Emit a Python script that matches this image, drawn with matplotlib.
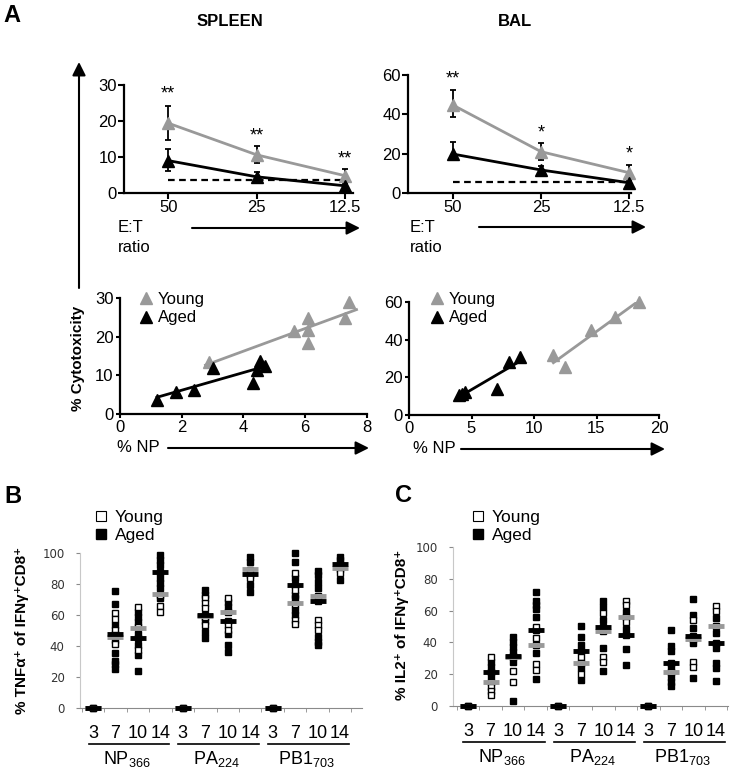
import numpy as np
import matplotlib.pyplot as plt
from matplotlib.patches import FancyArrowPatch
from matplotlib.lines import Line2D
import matplotlib.transforms as mtransforms

plt.rcParams['font.family'] = ['Liberation Sans', 'DejaVu Sans']
plt.rcParams['mathtext.default'] = 'regular'

# ---- panel A, top: % cytotoxicity vs E:T ratio ----
et_labels = ['50', '25', '12.5']

spl_young = [19.4, 10.6, 4.8]
spl_young_err = [[4.6, 2.3, 1.5], [4.8, 2.4, 1.8]]
spl_aged = [9.0, 4.5, 2.0]
spl_aged_err = [[3.0, 1.0, 0.5], [3.1, 1.4, 0.5]]
spl_base = 3.6
spl_stars = ['**', '**', '**']
spl_star_y = [27.5, 15.8, 9.4]

bal_young = [44.7, 21.0, 10.3]
bal_young_err = [[6.0, 4.0, 3.0], [7.7, 4.3, 3.9]]
bal_aged = [19.8, 11.7, 5.2]
bal_aged_err = [[3.0, 2.0, 1.0], [6.3, 2.2, 1.0]]
bal_base = 5.7
bal_stars = ['**', '*', '*']
bal_star_y = [57.8, 30.7, 19.8]

# ---- panel A, bottom: % cytotoxicity vs % NP ----
spl_np_young = [2.87, 5.65, 6.08, 6.08, 6.08, 7.3, 7.41]
spl_cyt_young = [13.5, 21.5, 24.7, 21.6, 18.4, 24.7, 28.9]
spl_np_aged = [1.2, 1.8, 2.4, 3.0, 4.3, 4.45, 4.55, 4.7]
spl_cyt_aged = [3.6, 5.6, 6.2, 12.0, 7.9, 11.4, 13.8, 12.5]

bal_np_young = [11.55, 12.5, 14.56, 16.5, 18.4]
bal_cyt_young = [31.9, 25.4, 45.3, 52.0, 60.0]
bal_np_aged = [4.0, 4.2, 4.45, 7.05, 8.0, 8.85]
bal_cyt_aged = [10.5, 11.0, 12.2, 13.8, 28.0, 30.8]

# ---- panels B and C ----
days = ['3', '7', '10', '14']
epitopes = ['NP$_{366}$', 'PA$_{224}$', 'PB1$_{703}$']

tnf_young = [
    [0], [61.5, 57.4, 50.3, 47, 41.0], [65.4, 52, 37.4], [66, 62, 73],
    [0], [71, 67.7, 64.7, 59, 53.5], [71.2, 62, 53.5, 50.3], [89, 83.6],
    [0], [86.9, 76.1, 67, 56.8, 54], [72, 56.8, 53.5, 50.3], [90, 86.8],
]
tnf_aged = [
    [0], [75.5, 67, 53.5, 48, 43.9, 35.3, 30.3, 28.2, 25.2],
    [62, 59, 55.7, 48, 45, 40.6, 34.2, 23.9],
    [98.7, 95.5, 92.3, 87.5, 83.6, 80.4, 77.2, 70.7],
    [0], [76, 73, 60, 56, 48.8, 45], [68.6, 65.4, 56, 47.5, 40.6, 35.9],
    [97.6, 94.4, 86, 79.4, 75],
    [0], [100, 94.4, 83.6, 79.4, 72.9, 70.7, 63.2, 60],
    [88.4, 85.8, 81.5, 77.2, 69.2, 46, 42.8, 40.6], [97.6, 95.5, 92.7, 82.6],
]
tnf_young_med = [0, 45.6, 51.8, 73.3, 0, 59.5, 62.1, 89.7, 0, 67.5, 72.5, 90.5]
tnf_aged_med = [0, 47.6, 45.4, 87.5, 0, 60.0, 56.1, 86.2, 0, 79.4, 69.2, 92.7]

il2_young = [
    [0], [30.6, 15.3, 12.1, 9.6, 6.9], [31, 22.2, 15.3], [49.9, 42.6, 38.4, 26.4, 22.6],
    [0], [30.6, 27.2, 20.1], [58.7, 47.4, 31, 27.9], [66, 63.5, 56.2, 53],
    [0], [21.6], [54.1, 41.9, 27.9, 24.7], [62.9, 60, 50.3],
]
il2_aged = [
    [0], [27.9, 24.7, 21.6, 18.9], [43.6, 40.4, 37.3, 34.2, 31.4, 27.9, 3.4],
    [71.9, 66.2, 63.5, 61, 55.8, 47.8, 33.1, 16.8],
    [0], [50.3, 43.6, 38.4, 34.6, 23.7, 16.4], [66, 62.5, 54.1, 49.5, 36.7, 22.2],
    [59.3, 48.2, 44.7, 35.7, 25.8],
    [0], [47.8, 37.7, 34.6, 27.2, 24.7, 18.4, 15.3, 12.6],
    [67.1, 57.2, 48.9, 44, 39.4, 17.4], [55.2, 45.7, 39.4, 36.3, 26.9, 23.7, 15.9],
]
il2_young_med = [0, 15.3, 31.0, 38.4, 0, 27.2, 47.4, 56.2, 0, 21.6, 41.9, 50.3]
il2_aged_med = [0, 21.6, 31.4, 47.8, 0, 34.6, 49.5, 44.7, 0, 27.2, 44.0, 39.4]

GRAY = '#999999'
W, H = 732, 772


def rect(x0, y0, x1, y1):
    return [x0 / W, 1 - y1 / H, (x1 - x0) / W, (y1 - y0) / H]


def fp(x, y):
    return (x / W, 1 - y / H)


fig = plt.figure(figsize=(W / 100, H / 100), dpi=100)


def arrow(x0, y0, x1, y1):
    fig.add_artist(FancyArrowPatch(fp(x0, y0), fp(x1, y1), transform=fig.transFigure,
                                   arrowstyle='-|>', mutation_scale=20, lw=1.5,
                                   color='black', shrinkA=0, shrinkB=0))


def style_a(ax):
    for s in ['top', 'right']:
        ax.spines[s].set_visible(False)
    for s in ['left', 'bottom']:
        ax.spines[s].set_linewidth(1.6)
    ax.tick_params(length=4, width=1.5, labelsize=12, pad=1)


def et_panel(rc, xlim, ymax, young, yerr, aged, aerr, base, stars, star_y):
    ax = fig.add_axes(rect(*rc))
    x = np.arange(len(et_labels))
    ax.hlines(base, x[0], x[-1], colors='black', linestyles=(0, (3, 2)), lw=1.6)
    ax.errorbar(x, young, yerr=yerr, fmt='none', ecolor='black', elinewidth=1.3,
                capsize=2.5, capthick=1.3, clip_on=False)
    ax.errorbar(x, aged, yerr=aerr, fmt='none', ecolor='black', elinewidth=1.3,
                capsize=2.5, capthick=1.3, clip_on=False)
    ax.plot(x, young, color=GRAY, lw=2, marker='^', ms=9, clip_on=False, zorder=3)
    ax.plot(x, aged, color='black', lw=2, marker='^', ms=9, clip_on=False, zorder=3)
    for xi, s, yy in zip(x, stars, star_y):
        ax.text(xi, yy, s, ha='center', va='center', fontsize=13)
    ax.set_xlim(*xlim)
    ax.set_ylim(0, ymax)
    ax.set_yticks(np.linspace(0, ymax, 4))
    ax.set_xticks(x)
    ax.set_xticklabels(et_labels)
    style_a(ax)
    return ax


et_panel((124, 85, 353, 193), (-0.5, 2.09), 30, spl_young, spl_young_err,
         spl_aged, spl_aged_err, spl_base, spl_stars, spl_star_y)
et_panel((408, 75, 631, 193), (-0.51, 2.02), 60, bal_young, bal_young_err,
         bal_aged, bal_aged_err, bal_base, bal_stars, bal_star_y)


def np_panel(rc, xmax, ymax, xy, ay, xa, aa, ext_y, ext_a, leg_left):
    ax = fig.add_axes(rect(*rc))
    for xs, ys, c, ext in [(xy, ay, GRAY, ext_y), (xa, aa, 'black', ext_a)]:
        xs = np.array(xs)
        k, b = np.polyfit(xs, ys, 1)
        xx = np.array([xs.min() - ext[0], xs.max() + ext[1]])
        ax.plot(xx, k * xx + b, color=c, lw=2)
    ax.plot(xy, ay, ls='none', marker='^', ms=9, color=GRAY, clip_on=False, label='Young')
    ax.plot(xa, aa, ls='none', marker='^', ms=9, color='black', clip_on=False, label='Aged')
    ax.set_xlim(0, xmax)
    ax.set_ylim(0, ymax)
    ax.set_xticks(np.linspace(0, xmax, 5))
    ax.set_yticks(np.linspace(0, ymax, 4))
    style_a(ax)
    ax.tick_params(length=3, pad=1.5)
    ax.legend(loc='upper left', bbox_to_anchor=fp(leg_left, 292), bbox_transform=fig.transFigure,
              frameon=False, fontsize=12, handlelength=1.0, handletextpad=0.2,
              labelspacing=0.2, borderpad=0, borderaxespad=0)
    return ax


np_panel((120, 298, 367, 414), 8, 30, spl_np_young, spl_cyt_young,
         spl_np_aged, spl_cyt_aged, (0.1, 0.25), (0.0, 0.0), 138)
np_panel((409, 302, 659, 415), 20, 60, bal_np_young, bal_cyt_young,
         bal_np_aged, bal_cyt_aged, (0.0, 0.0), (0.0, 0.0), 429)

# arrows and labels of panel A
arrow(79, 288, 79, 62)
arrow(192, 228, 360, 228)
arrow(479, 227, 646, 227)
arrow(168, 448, 369, 448)
arrow(461, 449, 665, 449)
fig.text(*fp(12, 15), 'A', fontsize=17, fontweight='bold', ha='center', va='center')
fig.text(*fp(230, 22), 'SPLEEN', fontsize=12, fontweight='bold', ha='center', va='center')
fig.text(*fp(515, 22), 'BAL', fontsize=12, fontweight='bold', ha='center', va='center')
for x0 in [118, 410]:
    fig.text(*fp(x0, 228), 'E:T', fontsize=12, ha='left', va='center')
    fig.text(*fp(x0, 248), 'ratio', fontsize=12, ha='left', va='center')
fig.text(*fp(117, 448), '% NP', fontsize=12, ha='left', va='center')
fig.text(*fp(413, 449), '% NP', fontsize=12, ha='left', va='center')
fig.text(*fp(78, 358), '% Cytotoxicity', fontsize=11, fontweight='bold',
         rotation=90, ha='center', va='center')


def strip_panel(rc, xlim, young, aged, ymed, amed, ylabel, ylab_xy, leg_left):
    ax = fig.add_axes(rect(*rc))
    n = len(young)
    for i in range(n):
        ax.plot([i] * len(aged[i]), aged[i], ls='none', marker='s', ms=4.8,
                color='black', clip_on=False, zorder=2)
        ax.plot([i] * len(young[i]), young[i], ls='none', marker='s', ms=4.8,
                mfc='white', mec='black', mew=1.0, clip_on=False, zorder=2)
    x = np.arange(n)
    ax.plot(x, ymed, ls='none', marker='_', ms=11, mew=3.5, color=GRAY, zorder=3, clip_on=False)
    ax.plot(x, amed, ls='none', marker='_', ms=11, mew=3.5, color='black', zorder=4, clip_on=False)
    ax.set_xlim(*xlim)
    ax.set_ylim(0, 100)
    ax.set_yticks(np.arange(0, 101, 20))
    ax.set_xticks([])
    ax.set_xticks(np.arange(-0.5, n, 1), minor=True)
    for s in ['top', 'right']:
        ax.spines[s].set_visible(False)
    ax.spines['left'].set_color('#c8c8c8')
    ax.spines['bottom'].set_color('#8a8a8a')
    ax.tick_params(axis='y', length=3, color='#8a8a8a', labelsize=8.5, pad=8,
                   labelcolor='#333333', labelfontfamily='DejaVu Sans')
    ax.tick_params(axis='x', which='minor', length=3, color='#8a8a8a')
    tr = mtransforms.blended_transform_factory(ax.transData, fig.transFigure)
    y_axis = rc[3]
    for g, ep in enumerate(epitopes):
        for j, d in enumerate(days):
            ax.text(4 * g + j, 1 - (y_axis + 25) / H, d, transform=tr, ha='center',
                    va='center', fontsize=13)
        ax.add_line(Line2D([4 * g - 0.2, 4 * g + 3.4], [1 - (y_axis + 36) / H] * 2,
                           transform=tr, color='black', lw=1.2, clip_on=False))
        ax.text(4 * g + 1.5, 1 - (y_axis + 51) / H, ep, transform=tr, ha='center',
                va='center', fontsize=13)
    fig.text(*fp(*ylab_xy), ylabel, fontsize=11, fontweight='bold', rotation=90,
             ha='center', va='center')
    handles = [Line2D([], [], ls='none', marker='s', ms=6.5, mfc='white', mec='black', mew=0.8),
               Line2D([], [], ls='none', marker='s', ms=6.5, color='black')]
    ax.legend(handles, ['Young', 'Aged'], loc='upper left',
              bbox_to_anchor=fp(leg_left, 510), bbox_transform=fig.transFigure,
              frameon=False, fontsize=12.5, handlelength=0.8, handletextpad=0.4,
              labelspacing=0.15, borderpad=0, borderaxespad=0)
    return ax


strip_panel((80, 553, 362, 708), (-0.58, 11.98), tnf_young, tnf_aged, tnf_young_med,
            tnf_aged_med, '% TNFα⁺ of IFNγ⁺CD8⁺', (22, 630), 94)
strip_panel((453, 547, 728, 706), (-0.665, 11.53), il2_young, il2_aged, il2_young_med,
            il2_aged_med, '% IL2⁺ of IFNγ⁺CD8⁺', (402, 625), 471)
fig.text(*fp(13, 497), 'B', fontsize=17, fontweight='bold', ha='center', va='center')
fig.text(*fp(403, 496), 'C', fontsize=17, fontweight='bold', ha='center', va='center')

fig.savefig('out.png', dpi=100)
